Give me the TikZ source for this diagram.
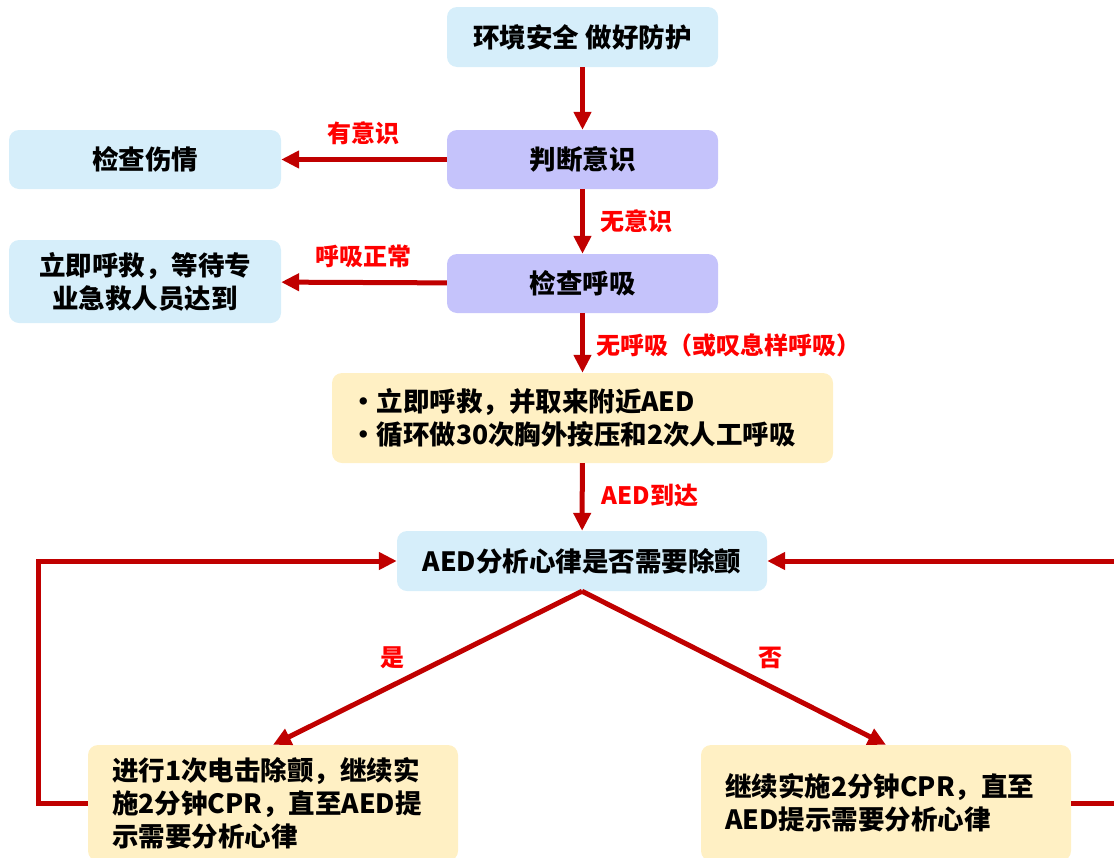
\documentclass[tikz,border=0pt]{standalone}
\usepackage{fontspec}
\setmainfont{Noto Sans CJK SC}
\usetikzlibrary{arrows.meta}
\definecolor{boxblue}{RGB}{214,238,250}
\definecolor{boxviolet}{RGB}{197,195,251}
\definecolor{boxyellow}{RGB}{255,240,196}
\definecolor{arrred}{RGB}{192,0,0}
\definecolor{labred}{RGB}{255,0,0}
\begin{document}
\begin{tikzpicture}[x=1pt, y=-1pt,
    box/.style={rounded corners=10pt, inner sep=0pt, align=center, font=\fontsize{26.5}{33}\selectfont\bfseries},
    arr/.style={-{Triangle[width=17pt,length=18pt]}, line width=5pt, color=arrred},
    lab/.style={text=labred, font=\fontsize{24}{28}\selectfont\bfseries}]
    \clip (0, 0) rectangle (1114, 857);
    \node[box, fill=boxblue, minimum width=271pt, minimum height=60pt] (safe) at (582.5, 37) {环境安全 做好防护};
    \node[box, fill=boxviolet, minimum width=271pt, minimum height=59pt] (judge) at (582.5, 159.5) {判断意识};
    \node[box, fill=boxblue, minimum width=272pt, minimum height=59pt] (injury) at (145, 159.5) {检查伤情};
    \node[box, fill=boxviolet, minimum width=271pt, minimum height=59pt] (breath) at (582.5, 283.5) {检查呼吸};
    \node[box, fill=boxblue, minimum width=272pt, minimum height=83pt] (call) at (145, 281.5) {立即呼救，等待专\\业急救人员达到};
    \node[box, fill=boxyellow, minimum width=501pt, minimum height=90pt, text width=465pt, align=left] (cpr) at (582.5, 418) {・立即呼救，并取来附近AED\\・循环做30次胸外按压和2次人工呼吸};
    \node[box, fill=boxblue, minimum width=370pt, minimum height=60pt] (aed) at (582, 561) {AED分析心律是否需要除颤};
    \node[box, fill=boxyellow, minimum width=370pt, minimum height=116pt, text width=322pt, align=left] (shock) at (273, 803) {进行1次电击除颤，继续实\\施2分钟CPR，直至AED提\\示需要分析心律};
    \node[box, fill=boxyellow, minimum width=370pt, minimum height=116pt, text width=322pt, align=left] (goon) at (886, 803) {继续实施2分钟CPR，直至\\AED提示需要分析心律};
    \draw[arr] (safe) -- (judge);
    \draw[arr] (judge) -- (injury);
    \draw[arr] (judge) -- (breath);
    \draw[arr] (breath) -- (call);
    \draw[arr] (breath) -- (cpr);
    \draw[arr] (cpr) -- (aed);
    \draw[arr] (aed.south) -- (shock.north);
    \draw[arr] (aed.south) -- (goon.north);
    \draw[arr] (shock.west) -- ++(-49, 0) |- (aed.west);
    \draw[arr] (goon.east) -- ++(47, 0) |- (aed.east);
    \node[lab] (l1) at (363, 133) {有意识};
    \node[lab] (l2) at (636, 221) {无意识};
    \node[lab] (l3) at (363, 256) {呼吸正常};
    \node[lab] (l4) at (728, 345) {无呼吸（或叹息样呼吸）};
    \node[lab] (l5) at (650, 495) {AED到达};
    \node[lab] (l6) at (392, 658) {是};
    \node[lab] (l7) at (770, 658) {否};
\end{tikzpicture}
\end{document}
